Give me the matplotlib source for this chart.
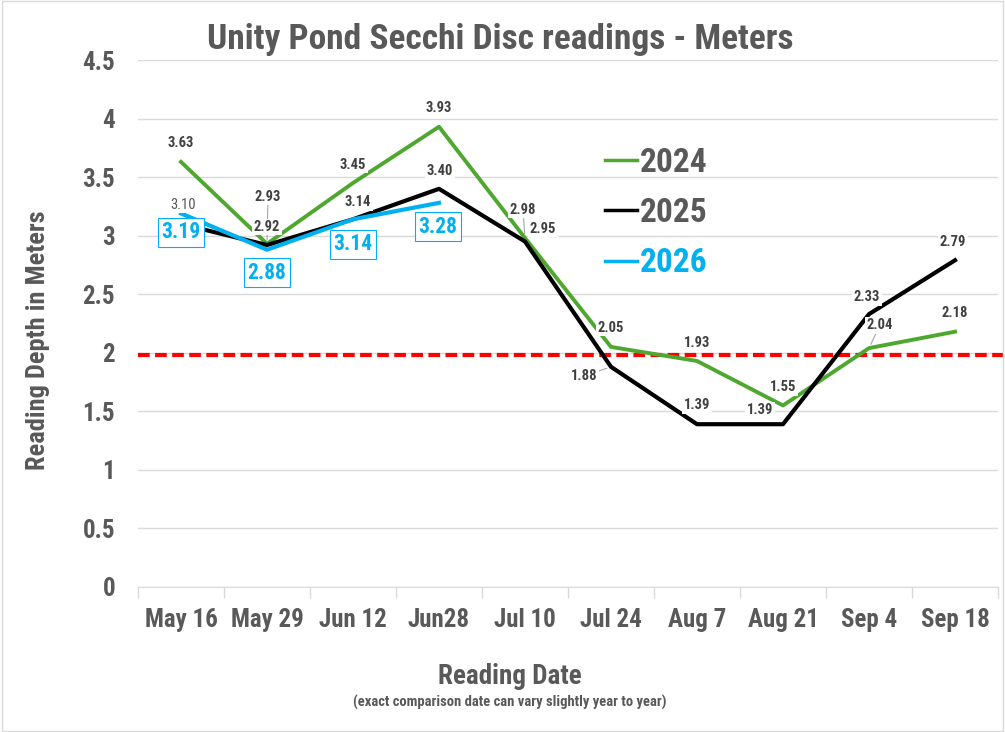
import matplotlib
matplotlib.use("Agg")
import matplotlib.pyplot as plt
from matplotlib import font_manager
from matplotlib.lines import Line2D
from matplotlib.patches import Rectangle
import numpy as np

# pick a narrow font if there is one
available = {f.name for f in font_manager.fontManager.ttflist}
narrow = "DejaVu Sans"
for cand in ["Liberation Sans Narrow", "DejaVu Sans Condensed", "Roboto Condensed", "Open Sans Condensed"]:
    if cand in available:
        narrow = cand
        break
plt.rcParams["font.family"] = [narrow, "DejaVu Sans"]

dates = ["May 16", "May 29", "Jun 12", "Jun28", "Jul 10", "Jul 24", "Aug 7", "Aug 21", "Sep 4", "Sep 18"]
y2024 = [3.63, 2.93, 3.45, 3.93, 2.98, 2.05, 1.93, 1.55, 2.04, 2.18]
y2025 = [3.10, 2.92, 3.14, 3.40, 2.95, 1.88, 1.39, 1.39, 2.33, 2.79]
y2026 = [3.19, 2.88, 3.14, 3.28]
threshold = 1.98

GREEN = "#4ea72e"
BLUE = "#00b0f0"
GRAY = "#595959"
GRID = "#d9d9d9"

# label offsets in pixels (dx, dy, leader line?)
off2024 = [(0, 19, 0), (1, 47, 1), (0, 18, 0), (0, 19, 0), (-2, 28, 1),
           (0, 19, 0), (0, 18, 0), (0, 18, 0), (11, 23, 1), (0, 19, 0)]
off2025 = [(2, 19, 0), (0, 18, 0), (5, 17, 0), (1, 18, 0), (18, 13, 0),
           (-27, -9, 1), (0, 19, 0), (-23, 14, 0), (-2, 17, 0), (-2, 18, 0)]
off2026 = [(0, -19, 0), (0, -23, 0), (0, -25, 0), (-1, -24, 0)]

fig = plt.figure(figsize=(10.05, 7.32), dpi=100)
fig.patches.append(Rectangle((0.002, 0.002), 0.996, 0.996, transform=fig.transFigure,
                             fill=False, ec="#d9d9d9", lw=1))
ax = fig.add_axes([138 / 1005, 1 - 587 / 732, 860 / 1005, 527 / 732])

x = np.arange(len(dates))
ax.plot(x, y2024, color=GREEN, lw=2.8, zorder=3)
ax.plot(x, y2025, color="black", lw=3.0, zorder=3)
ax.plot(x[:len(y2026)], y2026, color=BLUE, lw=3.0, zorder=4)
ax.plot([-0.5, 10.0], [threshold, threshold], color="#ff0000", lw=3, ls=(0, (2.8, 1.3)),
        zorder=2, clip_on=False)


def put_labels(vals, offs, first_kw=None, **kw):
    for i, (v, (dx, dy, lead)) in enumerate(zip(vals, offs)):
        ap = dict(arrowstyle="-", color="#a6a6a6", lw=0.8, shrinkA=0, shrinkB=3) if lead else None
        k = dict(kw)
        if i == 0 and first_kw:
            k.update(first_kw)
        ax.annotate(f"{v:.2f}", (x[i], v), xytext=(dx, dy), textcoords="offset pixels",
                    ha="center", va="center", zorder=6, arrowprops=ap, **k)


lab_kw = dict(fontsize=10.5, fontweight="bold", color="#404040",
              bbox=dict(fc="white", ec="none", pad=1.0))
put_labels(y2024, off2024, **lab_kw)
put_labels(y2025, off2025, first_kw=dict(fontweight="normal", color="#595959"), **lab_kw)
put_labels(y2026, off2026, fontsize=15.5, fontweight="bold", color=BLUE,
           bbox=dict(fc="white", ec=BLUE, lw=0.8, pad=2.5))

ax.set_xlim(-0.5, 9.5)
ax.set_ylim(0, 4.5)
ax.set_xticks(x)
ax.set_xticklabels(dates)
ax.set_xticks(np.arange(-0.5, 10, 1), minor=True)
ax.set_yticks(np.arange(0, 4.51, 0.5))
ax.set_yticklabels(["0", "0.5", "1", "1.5", "2", "2.5", "3", "3.5", "4", "4.5"])
ax.tick_params(axis="x", which="major", length=0, pad=15, labelsize=18, labelcolor=GRAY)
ax.tick_params(axis="x", which="minor", length=8, color=GRID, width=1)
ax.tick_params(axis="y", length=0, pad=16.5, labelsize=18, labelcolor=GRAY)
for lbl in ax.get_xticklabels() + ax.get_yticklabels():
    lbl.set_fontweight("bold")
ax.grid(axis="y", color=GRID, lw=1)
ax.set_axisbelow(True)
for s in ["top", "right", "left"]:
    ax.spines[s].set_visible(False)
ax.spines["bottom"].set_color(GRID)

fig.text(500 / 1005, 1 - 40 / 732, "Unity Pond Secchi Disc readings - Meters", ha="center",
         va="center", fontsize=25.5, fontweight="bold", color=GRAY)
fig.text(38 / 1005, 1 - 340 / 732, "Reading Depth in Meters", rotation=90, ha="center",
         va="center", fontsize=19, fontweight="bold", color=GRAY)
fig.text(510 / 1005, 1 - 677 / 732, "Reading Date", ha="center", va="center",
         fontsize=19.5, fontweight="bold", color=GRAY)
fig.text(510 / 1005, 1 - 702 / 732, "(exact comparison date can vary slightly year to year)",
         ha="center", va="center", fontsize=10.5, fontweight="bold", color=GRAY)

handles = [Line2D([], [], color=GREEN, lw=2.5), Line2D([], [], color="black", lw=2.5),
           Line2D([], [], color=BLUE, lw=2.5)]
leg = ax.legend(handles, ["2024", "2025", "2026"], loc="center left",
                bbox_to_anchor=(605 / 1005, 1 - 213 / 732), bbox_transform=fig.transFigure,
                frameon=False, handlelength=0.95, handletextpad=0.1, labelspacing=0.55,
                borderpad=0, borderaxespad=0, prop=dict(size=24, weight="bold"))
for t, c in zip(leg.get_texts(), [GRAY, GRAY, BLUE]):
    t.set_color(c)

fig.savefig("out.png", dpi=100)
